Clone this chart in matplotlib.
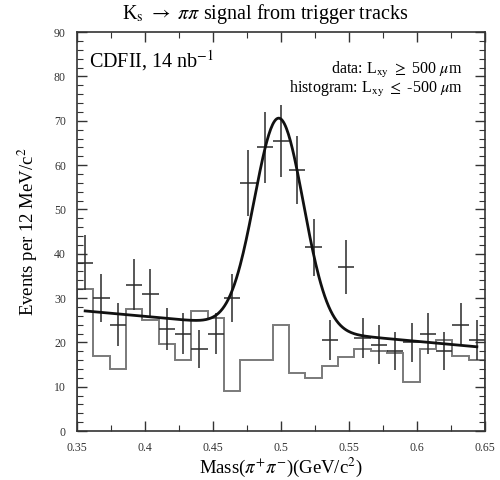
import numpy as np
import matplotlib
matplotlib.use("Agg")
import matplotlib.pyplot as plt
from matplotlib.ticker import MultipleLocator

plt.rcParams['font.family'] = ['Liberation Serif', 'DejaVu Serif']
plt.rcParams['mathtext.fontset'] = 'stix'

# Binning: 25 bins of 12 MeV/c^2 between 0.35 and 0.65 GeV/c^2
bin_edges = np.round(np.arange(0.35, 0.6501, 0.012), 3)
bin_centers = 0.5 * (bin_edges[:-1] + bin_edges[1:])

# Data counts (L_xy >= 500 um)
data_counts = [38, 30, 24, 33, 31, 23, 22, 18.5, 22, 30,
               56, 64, 65.5, 59, 41.5, 20.5, 37, 21, 19.5, 18,
               20, 22, 18, 24, 20.5]

# Histogram counts (L_xy <= -500 um)
hist_counts = [32, 17, 14, 27.5, 25, 19.6, 16, 27, 25.5, 9,
               16, 16, 24, 13, 12, 14.7, 16.6, 18.5, 18, 17.5,
               11, 18.5, 20.5, 17, 16]

# Fit: Gaussian signal on a linear background
fit_mean = 0.4985
fit_sigma = 0.018
fit_amp = 47.5
bg_at_start = 27.1
bg_slope = -28.1
fit_range = (0.356, 0.644)

fig = plt.figure(figsize=(5.0, 4.8), dpi=100)
ax = fig.add_axes([0.154, 0.102, 0.816, 0.831])

ax.stairs(hist_counts, bin_edges, color='#7a7a7a', linewidth=1.4)

counts = np.array(data_counts, dtype=float)
ax.errorbar(bin_centers, counts, yerr=np.sqrt(counts), xerr=0.006,
            fmt='none', ecolor='#2a2a2a', elinewidth=1.1, capsize=0)

xf = np.linspace(fit_range[0], fit_range[1], 400)
yf = (bg_at_start + bg_slope * (xf - fit_range[0])
      + fit_amp * np.exp(-0.5 * ((xf - fit_mean) / fit_sigma) ** 2))
ax.plot(xf, yf, color='#111111', linewidth=2.0)

ax.set_xlim(0.35, 0.65)
ax.set_ylim(0, 90)
ax.xaxis.set_major_locator(MultipleLocator(0.05))
ax.xaxis.set_minor_locator(MultipleLocator(0.025))
ax.yaxis.set_major_locator(MultipleLocator(10))
ax.yaxis.set_minor_locator(MultipleLocator(2))
ax.set_xticks([0.35, 0.4, 0.45, 0.5, 0.55, 0.6, 0.65])
ax.set_xticklabels(['0.35', '0.4', '0.45', '0.5', '0.55', '0.6', '0.65'])
ax.tick_params(which='both', direction='in', top=True, right=True,
               labelsize=8.5, colors='#333333')
ax.tick_params(which='major', length=7, width=1.0, pad=8)
ax.tick_params(which='minor', length=4, width=0.8)
for s in ax.spines.values():
    s.set_color('#333333')
    s.set_linewidth(1.2)

ax.set_xlabel(r'Mass($\pi^{+}\pi^{-}$)(GeV/c$^{2}$)', fontsize=13.5, labelpad=1)
ax.set_ylabel(r'Events per 12 MeV/c$^{2}$', fontsize=13.5, labelpad=10)
fig.text(0.53, 0.97, r'K$_{\rm s}$ $\rightarrow$ $\pi\pi$ signal from trigger tracks',
         ha='center', va='center', fontsize=14.5)

ax.text(0.03, 0.96, r'CDFII, 14 nb$^{-1}$', transform=ax.transAxes,
        ha='left', va='top', fontsize=14.5)
ax.text(0.945, 0.905, r'data: L$_{\rm xy}$ $\geq$ 500 $\mu$m',
        transform=ax.transAxes, ha='right', va='center', fontsize=11.5)
ax.text(0.945, 0.857, r'histogram: L$_{\rm xy}$ $\leq$ -500 $\mu$m',
        transform=ax.transAxes, ha='right', va='center', fontsize=11.5)

fig.savefig('out.png', dpi=100)
